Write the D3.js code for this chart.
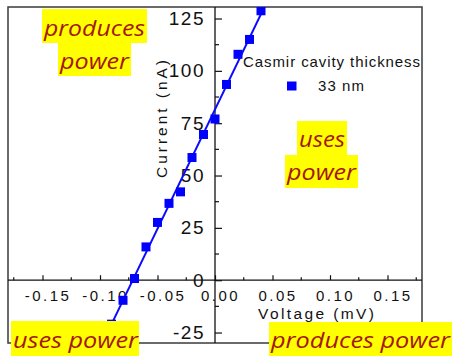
<!DOCTYPE html>
<html>
<head>
<meta charset="utf-8">
<script src="https://cdn.jsdelivr.net/npm/d3@7"></script>
<style>
  body { margin: 0; background: #fff; }
  svg { display: block; }
</style>
</head>
<body>
<svg id="chart"></svg>
<script>
// measured points, Casmir cavity thickness 33 nm
var voltage = [-0.09, -0.08, -0.07, -0.06, -0.05, -0.04, -0.03, -0.02, -0.01, 0.00, 0.01, 0.02, 0.03, 0.04];
var current = [-21, -9.6, 0.8, 15.9, 27.6, 36.7, 42.2, 58.6, 69.6, 77.0, 93.5, 107.9, 115.0, 128.7];

var xTicks = [-0.15, -0.10, -0.05, 0.00, 0.05, 0.10, 0.15];
var xMinor = [-0.175, -0.125, -0.075, -0.025, 0.025, 0.075, 0.125, 0.175];
var yTicks = [-25, 0, 25, 50, 75, 100, 125];
var yMinor = [-12.5, 12.5, 37.5, 62.5, 87.5, 112.5];
var fitRange = [-0.093, 0.047];

var width = 452, height = 356;
// note: "top" is reserved on window, so plot edges get their own names
var plotL = 8, plotR = 422, plotT = 7, plotB = 343;

var svg = d3.select("#chart")
    .attr("width", width)
    .attr("height", height);

svg.append("rect").attr("width", width).attr("height", height).attr("fill", "#fff");

var x = d3.scaleLinear().domain([-0.18, 0.18]).range([plotL, plotR]);
var y = d3.scaleLinear().domain([-30, 130.5]).range([plotB, plotT]);

svg.append("clipPath").attr("id", "plotclip")
    .append("rect")
    .attr("x", plotL).attr("y", plotT)
    .attr("width", plotR - plotL).attr("height", plotB - plotT);

// frame
svg.append("rect")
    .attr("x", plotL).attr("y", plotT)
    .attr("width", plotR - plotL).attr("height", plotB - plotT)
    .attr("fill", "none")
    .attr("stroke", "#3a3a3a")
    .attr("stroke-width", 1.5);

// axis lines through zero
svg.append("line")
    .attr("x1", plotL).attr("x2", plotR)
    .attr("y1", y(0)).attr("y2", y(0))
    .attr("stroke", "#111").attr("stroke-width", 1.3);
svg.append("line")
    .attr("x1", x(0)).attr("x2", x(0))
    .attr("y1", plotT).attr("y2", plotB)
    .attr("stroke", "#111").attr("stroke-width", 1.3);

// x axis, ticks pointing up
var xAxis = svg.append("g")
    .attr("transform", "translate(0," + y(0) + ")")
    .call(d3.axisBottom(x).tickValues(xTicks)
        .tickSizeInner(-5).tickSizeOuter(0).tickPadding(10)
        .tickFormat(function (d) { return (d < 0 ? "-" : "") + Math.abs(d).toFixed(2); }));
xAxis.select(".domain").remove();
xAxis.selectAll("line").attr("stroke", "#111").attr("stroke-width", 1.2);
xAxis.selectAll("text")
    .attr("x", 5)
    .style("font-family", "'Liberation Sans', Arial, sans-serif")
    .style("font-size", "15px")
    .style("letter-spacing", "2.5px")
    .attr("fill", "#111");

svg.append("g").selectAll("line")
    .data(xMinor)
    .enter().append("line")
    .attr("x1", function (d) { return x(d); })
    .attr("x2", function (d) { return x(d); })
    .attr("y1", y(0)).attr("y2", y(0) - 3)
    .attr("stroke", "#111").attr("stroke-width", 1.2);

// y axis, ticks pointing right, labels left
var yAxis = svg.append("g")
    .attr("transform", "translate(" + x(0) + ",0)")
    .call(d3.axisLeft(y).tickValues(yTicks)
        .tickSizeInner(-7).tickSizeOuter(0).tickPadding(10)
        .tickFormat(function (d) { return d < 0 ? "-" + Math.abs(d) : String(d); }));
yAxis.select(".domain").remove();
yAxis.selectAll("line").attr("stroke", "#111").attr("stroke-width", 1.2);
yAxis.selectAll("text")
    .style("font-family", "'Liberation Sans Narrow', 'Liberation Sans', Arial, sans-serif")
    .style("font-size", "19px")
    .style("letter-spacing", "1.5px")
    .attr("fill", "#111");

svg.append("g").selectAll("line")
    .data(yMinor)
    .enter().append("line")
    .attr("x1", x(0)).attr("x2", x(0) + 4)
    .attr("y1", function (d) { return y(d); })
    .attr("y2", function (d) { return y(d); })
    .attr("stroke", "#111").attr("stroke-width", 1.2);

// axis titles
svg.append("text")
    .attr("transform", "translate(167," + 119 + ") rotate(-90)")
    .attr("text-anchor", "middle")
    .attr("textLength", 118).attr("lengthAdjust", "spacing")
    .style("font-family", "'Liberation Sans', Arial, sans-serif")
    .style("font-size", "15.5px")
    .attr("fill", "#111")
    .text("Current (nA)");

svg.append("text")
    .attr("x", 258).attr("y", 319)
    .attr("textLength", 116).attr("lengthAdjust", "spacing")
    .style("font-family", "'Liberation Sans', Arial, sans-serif")
    .style("font-size", "15.5px")
    .attr("fill", "#111")
    .text("Voltage (mV)");

// linear fit (least squares on the points)
var n = voltage.length;
var mx = d3.mean(voltage), my = d3.mean(current);
var sxy = 0, sxx = 0;
for (var i = 0; i < n; i++) {
    sxy += (voltage[i] - mx) * (current[i] - my);
    sxx += (voltage[i] - mx) * (voltage[i] - mx);
}
var slope = sxy / sxx;
var icept = my - slope * mx;

var plot = svg.append("g").attr("clip-path", "url(#plotclip)");

plot.append("path")
    .datum(fitRange)
    .attr("d", d3.line()
        .x(function (d) { return x(d); })
        .y(function (d) { return y(icept + slope * d); }))
    .attr("fill", "none")
    .attr("stroke", "#0a0aff")
    .attr("stroke-width", 2);

var pts = voltage.map(function (v, i) { return { v: v, c: current[i] }; });
var sq = 9;
plot.selectAll(".pt")
    .data(pts)
    .enter().append("rect")
    .attr("class", "pt")
    .attr("x", function (d) { return x(d.v) - sq / 2; })
    .attr("y", function (d) { return y(d.c) - sq / 2; })
    .attr("width", sq).attr("height", sq)
    .attr("fill", "#0000ff");

// legend
svg.append("text")
    .attr("x", 243).attr("y", 67)
    .attr("textLength", 177).attr("lengthAdjust", "spacing")
    .style("font-family", "'Liberation Sans', Arial, sans-serif")
    .style("font-size", "15px")
    .attr("fill", "#111")
    .text("Casmir cavity thickness");
svg.append("rect")
    .attr("x", 287).attr("y", 81.5)
    .attr("width", 9.5).attr("height", 9)
    .attr("fill", "#0000ff");
svg.append("text")
    .attr("x", 318).attr("y", 91)
    .attr("textLength", 46).attr("lengthAdjust", "spacing")
    .style("font-family", "'Liberation Sans', Arial, sans-serif")
    .style("font-size", "15px")
    .attr("fill", "#111")
    .text("33 nm");

// highlighted notes
var noteText = ["produces", "power", "uses", "power", "uses power", "produces power"];
var noteBox = [
    [42, 9, 105, 34], [58, 43, 73, 33],
    [297, 121, 50, 34], [285, 155, 73, 33],
    [11, 321, 128, 35], [269, 322, 183, 34]
];
var noteInk = [[44, 36, 101], [60, 69, 69], [299, 147, 46], [287, 180, 69], [13, 348, 125], [271, 348, 179]];

noteText.forEach(function (t, i) {
    var b = noteBox[i], k = noteInk[i];
    svg.append("rect")
        .attr("x", b[0]).attr("y", b[1])
        .attr("width", b[2]).attr("height", b[3])
        .attr("fill", "#ffff00");
    svg.append("text")
        .attr("x", k[0]).attr("y", k[1])
        .attr("textLength", k[2]).attr("lengthAdjust", "spacingAndGlyphs")
        .style("font-family", "'Open Sans', 'Noto Sans', sans-serif")
        .style("font-style", "italic")
        .style("font-size", "21px")
        .attr("fill", "#a3180a")
        .text(t);
});
</script>
</body>
</html>
